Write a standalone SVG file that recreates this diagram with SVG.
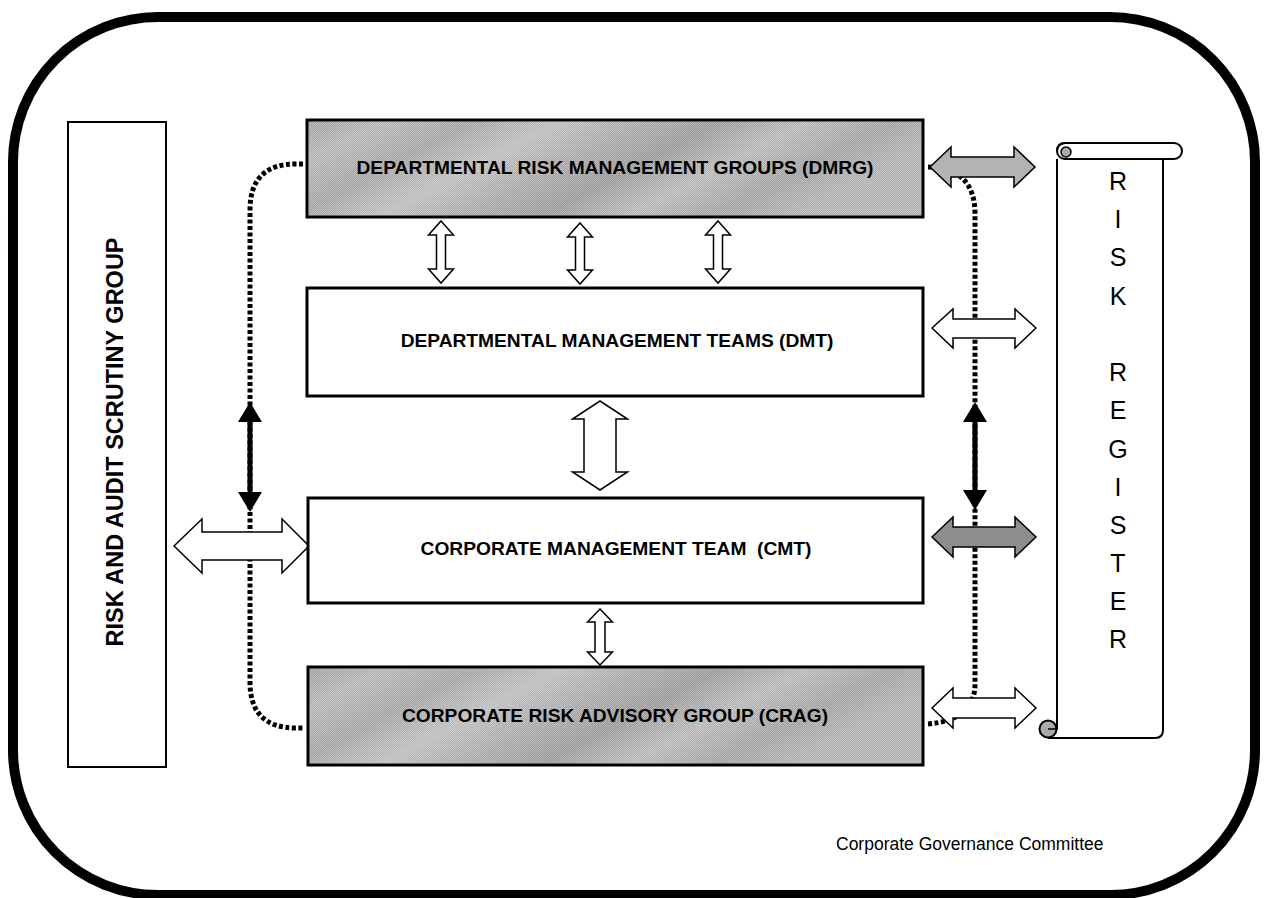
<svg xmlns="http://www.w3.org/2000/svg" width="1268" height="898" viewBox="0 0 1268 898">
<style>
.box{fill:#fff;stroke:#000;stroke-width:3}
.gbox{stroke:#000;stroke-width:3}
.lbl{font-family:"Liberation Sans",Arial,sans-serif;font-weight:bold;font-size:19.2px;text-anchor:middle;fill:#000}
.reg{font-family:"Liberation Sans",Arial,sans-serif;font-size:25px;text-anchor:middle;fill:#000}
.arr{fill:#fff;stroke:#000;stroke-width:1.5;stroke-linejoin:miter}
.dot{fill:none;stroke:#000;stroke-width:5;stroke-dasharray:4 2.5}
.blk{fill:#000;stroke:none}
</style>
<defs>
<linearGradient id="tex" x1="0" y1="0" x2="1" y2="0.3">
<stop offset="0" stop-color="#9c9c9c"/>
<stop offset="0.12" stop-color="#b4b4b4"/>
<stop offset="0.25" stop-color="#a2a2a2"/>
<stop offset="0.38" stop-color="#bcbcbc"/>
<stop offset="0.5" stop-color="#a8a8a8"/>
<stop offset="0.62" stop-color="#989898"/>
<stop offset="0.75" stop-color="#b6b6b6"/>
<stop offset="0.88" stop-color="#a0a0a0"/>
<stop offset="1" stop-color="#b0b0b0"/>
</linearGradient>
<pattern id="dith" width="2" height="2" patternUnits="userSpaceOnUse">
<rect x="0" y="0" width="1" height="1" fill="#fff" fill-opacity="0.25"/>
<rect x="1" y="1" width="1" height="1" fill="#fff" fill-opacity="0.25"/>
</pattern>
</defs>
<rect width="1268" height="898" fill="#fff"/>
<g id="frame">
<rect x="13" y="17" width="1242" height="878" rx="145" ry="145" fill="none" stroke="#000" stroke-width="10"/>
</g>
<g id="connectors">
<path class="dot" d="M303,164 H296 Q250,164 250,210 V682 Q250,728 296,728 H303"/>
<path class="dot" d="M928,167 Q975,168 975,214 V684 Q975,720 928,724"/>
<path class="blk" d="M250,402 L262,422 L252.5,422 L252.5,492 L262,492 L250,512 L238,492 L247.5,492 L247.5,422 L238,422 Z"/>
<path class="blk" d="M975,402 L987,422 L977.5,422 L977.5,490 L987,490 L975,510 L963,490 L972.5,490 L972.5,422 L963,422 Z"/>
<path class="arr" d="M441,221 L453.5,235 L445.5,235 L445.5,269 L453.5,269 L441,283 L428.5,269 L436.5,269 L436.5,235 L428.5,235 Z"/>
<path class="arr" d="M580,223 L592.5,237 L584.5,237 L584.5,270 L592.5,270 L580,284 L567.5,270 L575.5,270 L575.5,237 L567.5,237 Z"/>
<path class="arr" d="M718,221 L730.5,235 L722.5,235 L722.5,269 L730.5,269 L718,283 L705.5,269 L713.5,269 L713.5,235 L705.5,235 Z"/>
<path class="arr" d="M600,401 L627.5,419 L616,419 L616,472 L627.5,472 L600,490 L572.5,472 L584,472 L584,419 L572.5,419 Z"/>
<path class="arr" d="M600,609 L612.5,622 L605,622 L605,652 L612.5,652 L600,665 L587.5,652 L595,652 L595,622 L587.5,622 Z"/>
<path class="arr" d="M174,546 L202,519 L202,532 L282,532 L282,519 L309,546 L282,573 L282,560 L202,560 L202,573 Z"/>
<path class="arr" style="fill:#b3b3b3" d="M930,167 L951,147 L951,157 L1014,157 L1014,147 L1035,167 L1014,187 L1014,177 L951,177 L951,187 Z"/>
<path class="arr" d="M932,328 L953,309 L953,319 L1015,319 L1015,309 L1036,328 L1015,348 L1015,338 L953,338 L953,348 Z"/>
<path class="arr" style="fill:#8e8e8e" d="M932,537 L953,517 L953,527 L1015,527 L1015,517 L1036,537 L1015,557 L1015,547 L953,547 L953,557 Z"/>
<path class="arr" d="M932,708 L953,688 L953,698 L1015,698 L1015,688 L1036,708 L1015,728 L1015,718 L953,718 L953,728 Z"/>
</g>
<g id="rasg">
<rect x="68" y="122" width="98" height="645" fill="#fff" stroke="#000" stroke-width="2"/>
<text class="lbl" style="font-size:23.5px" transform="translate(123,442) rotate(-90)">RISK AND AUDIT SCRUTINY GROUP</text>
</g>
<g id="dmrg">
<rect class="gbox" x="307" y="120" width="616" height="97" fill="url(#tex)"/>
<rect x="308.5" y="121.5" width="613" height="94" fill="url(#dith)"/>
<text class="lbl" x="615" y="174">DEPARTMENTAL RISK MANAGEMENT GROUPS (DMRG)</text>
</g>
<g id="dmt">
<rect class="box" x="307" y="288" width="616" height="108"/>
<text class="lbl" x="617" y="347">DEPARTMENTAL MANAGEMENT TEAMS (DMT)</text>
</g>
<g id="cmt">
<rect class="box" x="308" y="498" width="615" height="105"/>
<text class="lbl" x="616" y="555" xml:space="preserve">CORPORATE MANAGEMENT TEAM  (CMT)</text>
</g>
<g id="crag">
<rect class="gbox" x="308" y="667" width="615" height="98" fill="url(#tex)"/>
<rect x="309.5" y="668.5" width="612" height="95" fill="url(#dith)"/>
<text class="lbl" x="615" y="722">CORPORATE RISK ADVISORY GROUP (CRAG)</text>
</g>
<g id="register">
<path d="M1057,159 V729 M1163,159 V730 Q1163,738 1155,738 H1048" fill="none" stroke="#000" stroke-width="2"/>
<rect x="1057" y="143" width="125" height="16" rx="8" ry="8" fill="#fff" stroke="#000" stroke-width="2"/>
<circle cx="1066" cy="152" r="5" fill="#aaa" stroke="#000" stroke-width="1.5"/>
<path d="M1057,151 Q1057,143 1065,143" fill="none" stroke="#000" stroke-width="2"/>
<circle cx="1048" cy="729" r="8.5" fill="#aaa" stroke="#000" stroke-width="2"/>
<path d="M1048,729 H1057 V722" fill="none" stroke="#000" stroke-width="1.5"/>
<text class="reg" x="1118" y="190">R</text>
<text class="reg" x="1118" y="228">I</text>
<text class="reg" x="1118" y="266">S</text>
<text class="reg" x="1118" y="305">K</text>
<text class="reg" x="1118" y="381">R</text>
<text class="reg" x="1118" y="419">E</text>
<text class="reg" x="1118" y="458">G</text>
<text class="reg" x="1118" y="496">I</text>
<text class="reg" x="1118" y="534">S</text>
<text class="reg" x="1118" y="572">T</text>
<text class="reg" x="1118" y="610">E</text>
<text class="reg" x="1118" y="648">R</text>
</g>
<g id="caption">
<text x="836" y="850" style="font-family:'Liberation Sans',Arial,sans-serif;font-size:17.5px;fill:#000">Corporate Governance Committee</text>
</g>
</svg>
